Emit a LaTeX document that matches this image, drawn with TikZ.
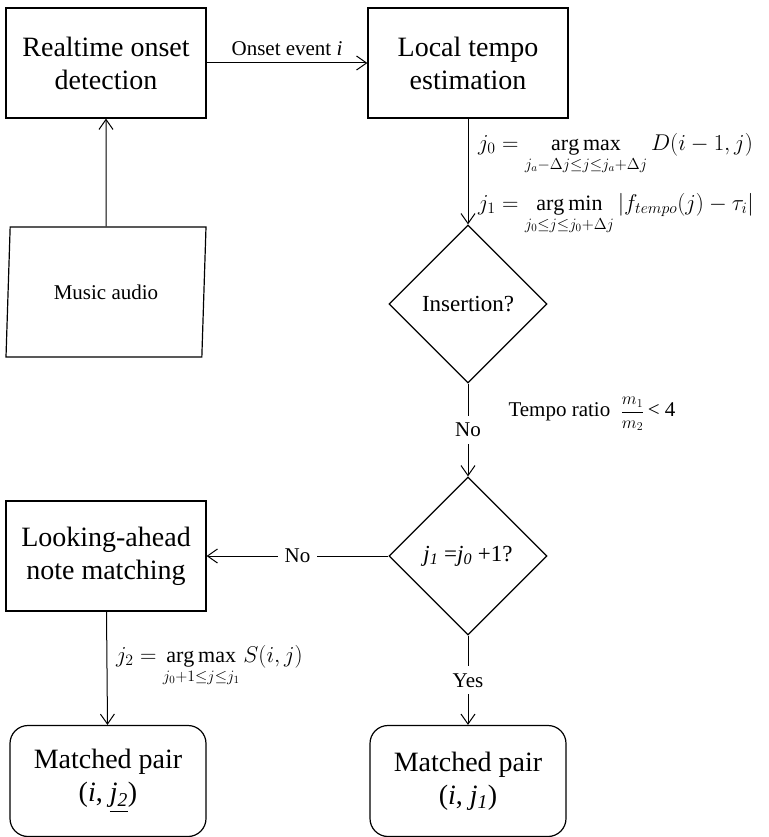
\documentclass[tikz,border=0pt]{standalone}
\usepackage{amsmath}
\usepackage{fontspec}
\setmainfont{Liberation Serif}
\usetikzlibrary{shapes.geometric,arrows.meta}

\newcommand{\boxtext}{\fontsize{28}{33}\selectfont}
\newcommand{\labeltext}{\fontsize{21}{25}\selectfont}
\newcommand{\questiontext}{\fontsize{23}{27}\selectfont}
\newcommand{\formulatext}{\fontsize{20}{24}\selectfont}

\begin{document}
\begin{tikzpicture}[x=1pt,y=-1pt]
    \useasboundingbox (0,0) rectangle (768,837);
    \tikzset{
      BoxStyle/.style = {draw, line width=1.2pt, minimum width=200pt, minimum height=110pt, align=center, font=\boxtext},
      PairStyle/.style = {BoxStyle, rounded corners=18pt, minimum width=196pt, minimum height=111pt},
      DecisionStyle/.style = {draw, diamond, line width=1.2pt, minimum width=158pt, minimum height=158pt, inner sep=0pt, font=\questiontext},
      InputStyle/.style = {draw, trapezium, trapezium left angle=79, trapezium right angle=101, trapezium stretches body, line width=1.2pt, minimum width=200pt, minimum height=130pt, font=\labeltext},
      EdgeStyle/.style = {-{Straight Barb[length=10pt,width=14pt]}, line width=1pt},
      LabelStyle/.style = {fill=white, font=\labeltext, inner sep=7pt},
      FormulaStyle/.style = {anchor=west, font=\formulatext, inner sep=0pt, scale=1.1, transform shape}
    }
    \node[BoxStyle] (detect) at (106,63) {Realtime onset\\detection};
    \node[BoxStyle] (tempo) at (468,63) {Local tempo\\estimation};
    \node[InputStyle] (audio) at (106,292) {Music audio};
    \node[DecisionStyle] (insert) at (468,304) {Insertion?};
    \node[DecisionStyle] (match) at (468,556) {\textit{j}\textsubscript{\textit{1}} =\textit{j}\textsubscript{\textit{0}} +1?};
    \node[BoxStyle] (look) at (106,556) {Looking-ahead\\note matching};
    \node[PairStyle] (pairtwo) at (108,781) {Matched pair\\(\textit{i}, \underline{\textit{j}\textsubscript{\textit{2}}})};
    \node[PairStyle] (pairone) at (468,781) {Matched pair\\(\textit{i}, \textit{j}\textsubscript{\textit{1}})};

    % formulas beside the connectors
    \node[FormulaStyle] (jzero) at (478,154) {$\displaystyle j_0 = \operatorname*{arg\,max}_{j_a-\Delta j\le j\le j_a+\Delta j} D(i-1,j)$};
    \node[FormulaStyle] (jone) at (478,214) {$\displaystyle j_1 = \operatorname*{arg\,min}_{j_0\le j\le j_0+\Delta j} \left|f_{tempo}(j)-\tau_i\right|$};
    \node[FormulaStyle] (jtwo) at (116,666) {$\displaystyle j_2 = \operatorname*{arg\,max}_{j_0+1\le j\le j_1} S(i,j)$};
    \node[anchor=west, font=\labeltext] (ratio) at (505,414) {Tempo ratio\ \ {\fontsize{18}{20}\selectfont$\dfrac{m_1}{m_2}$}\,< 4};

    \draw[EdgeStyle] (detect) -- node[above=3pt, font=\labeltext] {Onset event \textit{i}} (tempo);
    \draw[EdgeStyle] (audio) -- (detect);
    \draw[EdgeStyle] (tempo) -- (insert);
    \draw[EdgeStyle] (insert) -- node[LabelStyle] {No} (match);
    \draw[EdgeStyle] (match) -- node[LabelStyle] {No} (look);
    \draw[EdgeStyle] (match) -- node[LabelStyle] {Yes} (pairone);
    \draw[EdgeStyle] (look) -- (pairtwo);
\end{tikzpicture}
\end{document}
